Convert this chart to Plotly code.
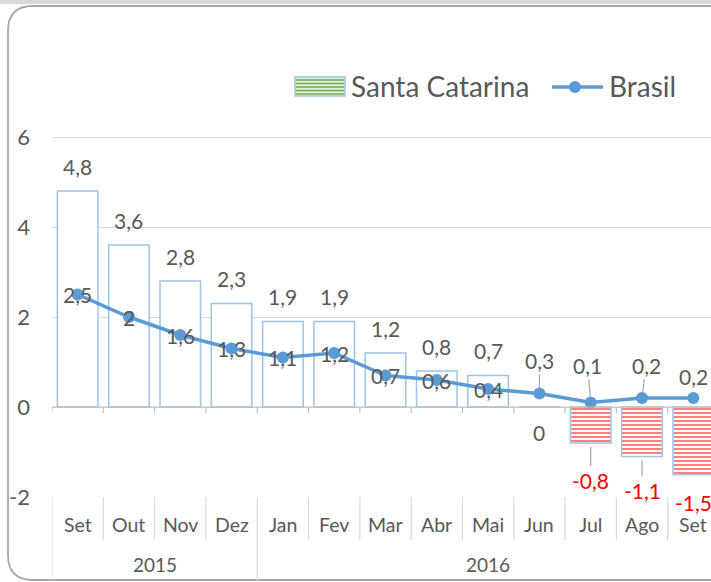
import plotly.graph_objects as go

months = ["Set", "Out", "Nov", "Dez", "Jan", "Fev", "Mar", "Abr", "Mai", "Jun", "Jul", "Ago", "Set"]
years = ["2015", "2016"]
year_spans = [(0, 3), (4, 12)]
santa_catarina = [4.8, 3.6, 2.8, 2.3, 1.9, 1.9, 1.2, 0.8, 0.7, 0.0, -0.8, -1.1, -1.5]
brasil = [2.5, 2.0, 1.6, 1.3, 1.1, 1.2, 0.7, 0.6, 0.4, 0.3, 0.1, 0.2, 0.2]
y_ticks = [-2, 0, 2, 4, 6]

# label offsets (pixels) - style only
sc_label_shift = [25, 25, 25, 25, 25, 25, 25, 25, 25, -25, 37, 34, 28]
br_label_shift = [0, 0, 0, 0, 0, 0, 0, 0, 0, -33, -37, -33, -22]
br_label_dx = [0, 0, 0, 0, 0, 0, 0, 0, 0, 0, -3, 4, 0]
br_leader = [False] * 9 + [True, True, True, False]
sc_leader = [False] * 10 + [True, True, False]

FONT = "Lato"
GRAY = "#595959"
BLUE = "#5B9BD5"
BAR_LINE = "#9DC3E6"

W, H = 711, 582
L, R, T, B = 52, 0, 47, 85
PW, PH = W - L - R, H - T - B


def px(x):
    return (x - L) / PW


def py(y):
    return (H - B - y) / PH


x = list(range(len(months)))

fmt = lambda v: (f"{v:g}").replace(".", ",")

neg = [v < 0 for v in santa_catarina]

fig = go.Figure()
fig.add_trace(go.Bar(
    x=x, y=santa_catarina, width=0.79,
    marker=dict(
        color="white",
        line=dict(color=BAR_LINE, width=1.5),
        pattern=dict(
            shape=["-" if n else "" for n in neg],
            fgcolor=["#ff0000" if n else "white" for n in neg],
            bgcolor="white",
            size=4, solidity=0.5,
        ),
    ),
    showlegend=False, hoverinfo="skip",
))
fig.add_trace(go.Scatter(
    x=x, y=brasil, mode="lines+markers",
    line=dict(color=BLUE, width=3.5),
    marker=dict(color=BLUE, size=12),
    showlegend=False, hoverinfo="skip",
))

LBL = 21
ann = []
for i, v in enumerate(santa_catarina):
    red = v < 0
    col = "#ff0000" if red else GRAY
    if sc_leader[i]:
        ann.append(dict(x=i, y=v, xref="x", yref="y", text=fmt(v), showarrow=True,
                        ax=0, ay=sc_label_shift[i], arrowhead=0, arrowwidth=1.2,
                        arrowcolor="#a6a6a6", standoff=4,
                        font=dict(family=FONT, size=LBL, color=col)))
    else:
        ann.append(dict(x=i, y=v, xref="x", yref="y", text=fmt(v), showarrow=False,
                        yshift=-sc_label_shift[i] if red else sc_label_shift[i],
                        font=dict(family=FONT, size=LBL, color=col)))

for i, v in enumerate(brasil):
    if br_leader[i]:
        ann.append(dict(x=i, y=v, xref="x", yref="y", text=fmt(v), showarrow=True,
                        ax=br_label_dx[i], ay=br_label_shift[i], arrowhead=0, arrowwidth=1.2,
                        arrowcolor="#a6a6a6", standoff=5,
                        font=dict(family=FONT, size=LBL, color=GRAY)))
    else:
        ann.append(dict(x=i, y=v, xref="x", yref="y", text=fmt(v), showarrow=False,
                        yshift=-br_label_shift[i],
                        font=dict(family=FONT, size=LBL, color=GRAY)))

# category labels
for i, m in enumerate(months):
    ann.append(dict(x=i, y=py(524), xref="x", yref="paper", text=m, showarrow=False,
                    yanchor="middle", font=dict(family=FONT, size=19.5, color=GRAY)))
for yname, (a, b) in zip(years, year_spans):
    ann.append(dict(x=(a + b) / 2, y=py(564), xref="x", yref="paper", text=yname, showarrow=False,
                    yanchor="middle", font=dict(family=FONT, size=19, color=GRAY)))

# legend text
ann.append(dict(x=px(349), y=py(86), xref="paper", yref="paper", text="Santa Catarina",
                showarrow=False, xanchor="left", yanchor="middle",
                font=dict(family=FONT, size=28, color=GRAY)))
ann.append(dict(x=px(607), y=py(86), xref="paper", yref="paper", text="Brasil",
                showarrow=False, xanchor="left", yanchor="middle",
                font=dict(family=FONT, size=28, color=GRAY)))

shapes = []
# top gray strip
shapes.append(dict(type="rect", xref="paper", yref="paper", x0=px(0), x1=px(W), y0=py(0), y1=py(4),
                   fillcolor="#d9d9d9", line=dict(width=0), layer="below"))
# frame
r = 25
path = (f"M {px(W + 40)},{py(6)} L {px(8 + r)},{py(6)} Q {px(8)},{py(6)} {px(8)},{py(6 + r)} "
        f"L {px(8)},{py(580 - r)} Q {px(8)},{py(580)} {px(8 + r)},{py(580)} L {px(W + 40)},{py(580)}")
shapes.append(dict(type="path", xref="paper", yref="paper", path=path,
                   line=dict(color="#a6a6a6", width=1.8)))
# axis line at zero with ticks, category separators
n = len(months)
for k in range(n + 1):
    shapes.append(dict(type="line", xref="x", yref="y", x0=k - 0.5, x1=k - 0.5, y0=0, y1=-6 / 45,
                       line=dict(color="#bfbfbf", width=1.2)))
    full = k == 0 or any(k == s for s, _ in year_spans[1:]) or k == n
    shapes.append(dict(type="line", xref="x", yref="paper", x0=k - 0.5, x1=k - 0.5,
                       y0=0, y1=py(582) if full else py(540),
                       line=dict(color="#d9d9d9", width=1.2)))
shapes.append(dict(type="line", xref="x", yref="y", x0=-0.5, x1=n, y0=0, y1=0,
                   line=dict(color="#bfbfbf", width=1.2)))

# legend symbols
shapes.append(dict(type="rect", xref="paper", yref="paper", x0=px(295), x1=px(345), y0=py(77), y1=py(96),
                   fillcolor="#e2f0d9", line=dict(color=BAR_LINE, width=1.5)))
for yy in [80, 83.5, 87, 90.5, 94]:
    shapes.append(dict(type="line", xref="paper", yref="paper", x0=px(296), x1=px(344), y0=py(yy), y1=py(yy),
                       line=dict(color="#70ad47", width=1.5)))
shapes.append(dict(type="line", xref="paper", yref="paper", x0=px(552), x1=px(603), y0=py(87), y1=py(87),
                   line=dict(color=BLUE, width=3.5)))
shapes.append(dict(type="circle", xref="paper", yref="paper", x0=px(569), x1=px(581), y0=py(81), y1=py(93),
                   fillcolor=BLUE, line=dict(color=BLUE, width=0)))

fig.update_layout(
    width=W, height=H,
    margin=dict(l=L, r=R, t=T, b=B),
    paper_bgcolor="white", plot_bgcolor="white",
    barmode="overlay",
    showlegend=False,
    xaxis=dict(range=[-0.5, 12.5 - 8 / 51.3], showgrid=False, zeroline=False, showticklabels=False,
               showline=False, fixedrange=True),
    yaxis=dict(range=[-2, 8], tickvals=y_ticks, ticktext=[str(t) for t in y_ticks],
               showgrid=True, gridcolor="#d9d9d9", gridwidth=1.2, zeroline=False, showline=False,
               ticks="", ticklabelstandoff=21, tickfont=dict(family=FONT, size=22, color=GRAY),
               fixedrange=True),
    annotations=ann,
    shapes=shapes,
    font=dict(family=FONT, color=GRAY),
)

fig.write_html("out.html", config={"displayModeBar": False},
               post_script="document.body.style.margin='0';document.body.style.overflow='hidden';")
